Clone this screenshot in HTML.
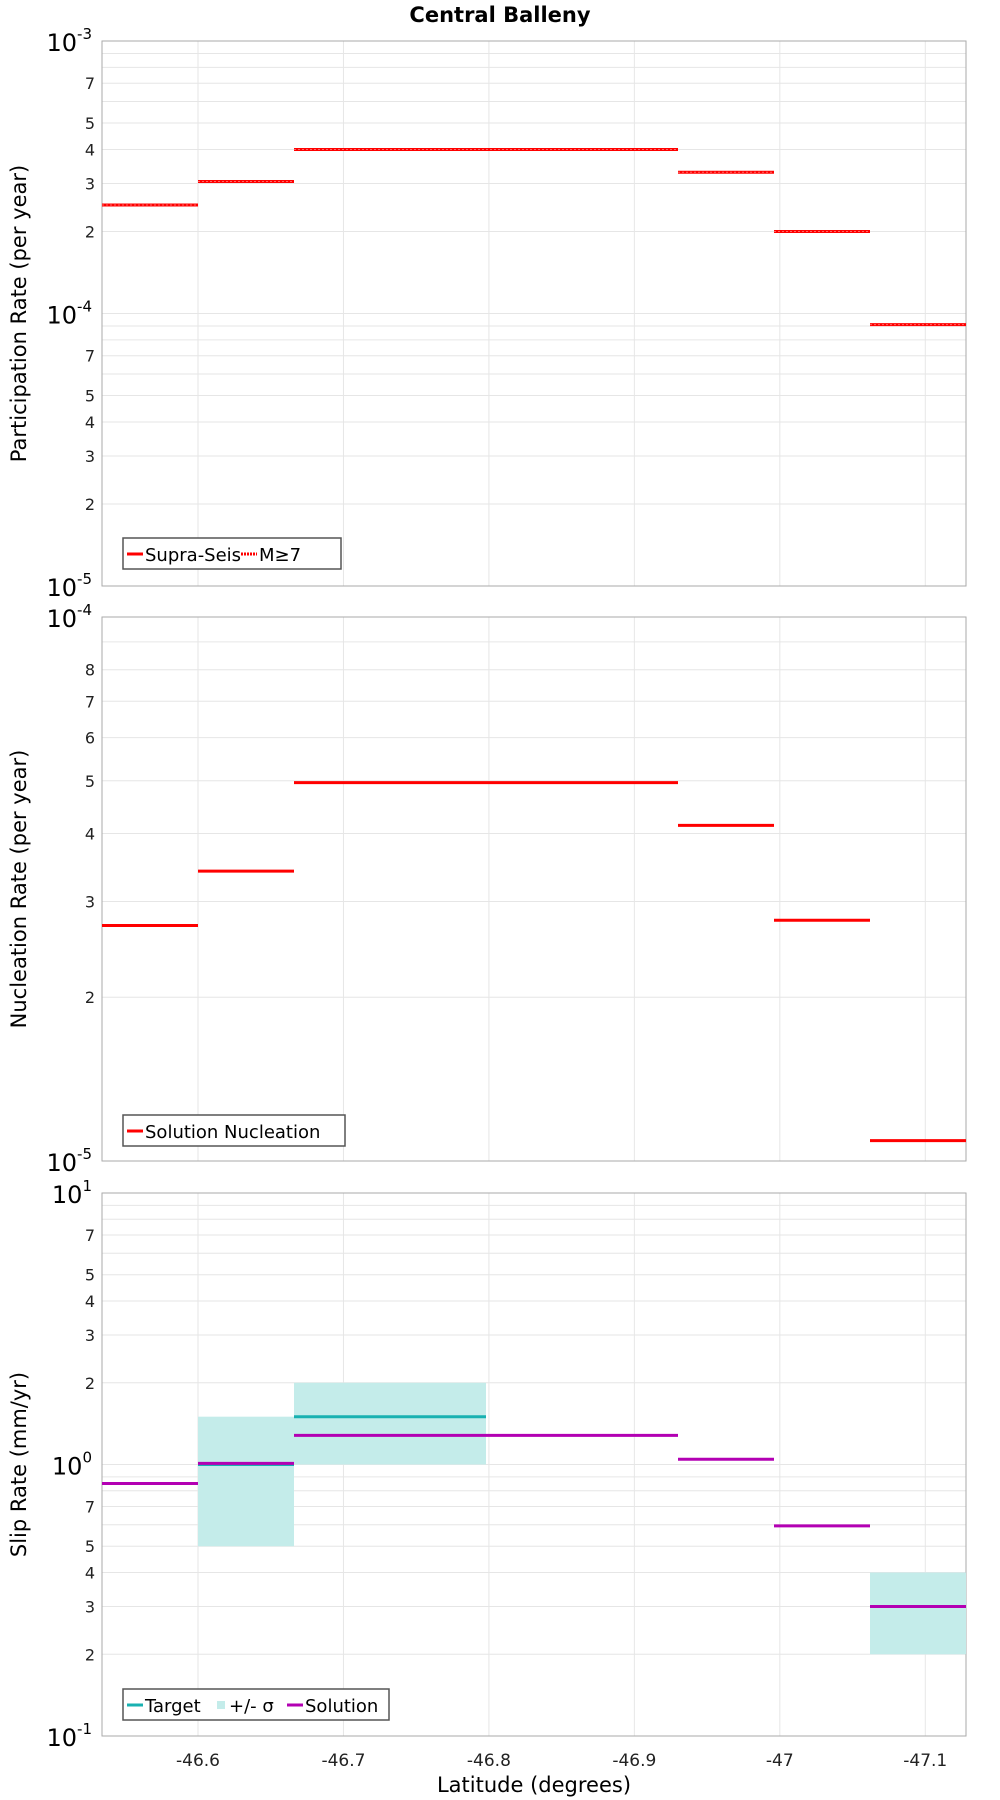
<!DOCTYPE html>
<html><head><meta charset="utf-8"><style>
html,body{margin:0;padding:0;background:#fff;}
svg{display:block;font-family:"DejaVu Sans","Liberation Sans",sans-serif;}
</style></head><body>
<svg id="chart" width="1000" height="1800" viewBox="0 0 1000 1800" xmlns="http://www.w3.org/2000/svg">
<text x="500" y="22" text-anchor="middle" font-size="21" font-weight="bold">Central Balleny</text>
<text x="534" y="1792" text-anchor="middle" font-size="21">Latitude (degrees)</text>
</svg>
<script>
// ---- data ----
const segStartLat = [-46.534,-46.600,-46.666,-46.732,-46.798,-46.864,-46.930,-46.996,-47.062];
const segEndLat   = [-46.600,-46.666,-46.732,-46.798,-46.864,-46.930,-46.996,-47.062,-47.128];
const xTicks = [-46.6,-46.7,-46.8,-46.9,-47,-47.1];
const xTickLabels = ["-46.6","-46.7","-46.8","-46.9","-47","-47.1"];
const partSupra = [2.5e-4,3.05e-4,4.0e-4,4.0e-4,4.0e-4,4.0e-4,3.3e-4,2.0e-4,9.1e-5];
const partM7    = [2.5e-4,3.05e-4,4.0e-4,4.0e-4,4.0e-4,4.0e-4,3.3e-4,2.0e-4,9.1e-5];
const nucleation = [2.71e-5,3.41e-5,4.96e-5,4.96e-5,4.96e-5,4.96e-5,4.14e-5,2.77e-5,1.09e-5];
const slipSolution = [0.851,1.01,1.28,1.28,1.28,1.28,1.045,0.594,0.30];
const slipTarget = [null,1.0,1.5,1.5,null,null,null,null,0.3];
const slipLow    = [null,0.5,1.0,1.0,null,null,null,null,0.2];
const slipHigh   = [null,1.5,2.0,2.0,null,null,null,null,0.4];

const NS="http://www.w3.org/2000/svg";
const svg=document.getElementById('chart');
const L=102,R=966,LAT0=-46.534,LAT1=-47.128;
function xs(lat){return L+(lat-LAT0)/(LAT1-LAT0)*(R-L);}
function mk(tag,attrs,parent){const e=document.createElementNS(NS,tag);for(const k in attrs)e.setAttribute(k,attrs[k]);(parent||svg).appendChild(e);return e;}

function panel(top,bot,minExp,maxExp,labelDigits,title,name){
  const g=mk('g',{});
  
  
  const ys=v=>bot-(Math.log10(v)-minExp)/(maxExp-minExp)*(bot-top);
  // grid
  for(const t of xTicks){const l=mk('line',{x1:xs(t),x2:xs(t),y1:top,y2:bot,stroke:'#e6e6e6','stroke-width':1},g);
    
    }
  for(let e=minExp;e<=maxExp;e++){
    for(let m=1;m<=9;m++){
      if(e===maxExp&&m>1)break;
      const v=m*Math.pow(10,e),y=ys(v);
      const l=mk('line',{x1:L,x2:R,y1:y,y2:y,stroke:'#e6e6e6','stroke-width':1},g);
      
      
      if(m===1){
        const t=mk('text',{x:92,y:y+10,'text-anchor':'end','font-size':24},g);
        
        
        t.textContent='10';
        const s=mk('tspan',{dy:-12,'font-size':15},t);s.textContent=String(e);
      } else if(labelDigits.includes(m)){
        const t=mk('text',{x:95,y:y+6,'text-anchor':'end','font-size':16,fill:'#222'},g);
        
        
        t.textContent=String(m);
      }
    }
  }
  const f=mk('rect',{x:L,y:top,width:R-L,height:bot-top,fill:'none',stroke:'#aaa','stroke-width':1},g);
  
  
  const yt=mk('text',{x:26,y:(top+bot)/2,'text-anchor':'middle','font-size':21,transform:`rotate(-90 26 ${(top+bot)/2})`},g);
  
  
  yt.textContent=title;
  return {g,ys};
}
function seg(g,ys,vals,color,w,name,dash){
  vals.forEach((v,i)=>{ if(v==null)return;
    const a={x1:xs(segStartLat[i]),x2:xs(segEndLat[i]),y1:ys(v),y2:ys(v),stroke:color,'stroke-width':w};
    if(dash)a['stroke-dasharray']=dash;
    const l=mk('line',a,g);
    
    
  });
}
function legend(g,x,y,w,items){
  const r=mk('rect',{x:x,y:y,width:w,height:31,fill:'#fff',stroke:'#555','stroke-width':1.5},g);
  
  
  let cx=x+4;
  for(const it of items){
    if(it.box){const b=mk('rect',{x:cx+2,y:y+12,width:8,height:8,fill:it.color},g);
      cx+=14;}
    else{const l=mk('line',{x1:cx,x2:cx+16,y1:y+16,y2:y+16,stroke:it.color,'stroke-width':3,'stroke-dasharray':it.dash||'none'},g);
      cx+=18;}
    const t=mk('text',{x:cx,y:y+23,'font-size':18},g);
    
    
    t.textContent=it.label;
    cx+=it.w;
  }
}
// panel 1
let p=panel(41,586,-5,-3,[2,3,4,5,7],'Participation Rate (per year)','participation-panel');
seg(p.g,p.ys,partSupra,'#ff0000',3,'supra-seis-segment');
seg(p.g,p.ys,partM7,'#ff6666',1,'m7-segment','2 2');
legend(p.g,123,538,218,[{color:'#f00',label:'Supra-Seis',w:96},{color:'#f00',label:'M≥7',w:40,dash:'2 1'}]);
// panel 2
p=panel(617,1161,-5,-4,[2,3,4,5,6,7,8],'Nucleation Rate (per year)','nucleation-panel');
seg(p.g,p.ys,nucleation,'#ff0000',3,'nucleation-segment');
legend(p.g,123,1115,222,[{color:'#f00',label:'Solution Nucleation',w:200}]);
// panel 3
p=panel(1193,1736,-1,1,[2,3,4,5,7],'Slip Rate (mm/yr)','slip-panel');
slipLow.forEach((lo,i)=>{ if(lo==null)return;
  const x1=xs(segStartLat[i]),x2=xs(segEndLat[i]),y1=p.ys(slipHigh[i]),y2=p.ys(lo);
  const r=mk('rect',{x:x1,y:y1,width:x2-x1,height:y2-y1,fill:'#c4ecea'},p.g);
  
  
});
seg(p.g,p.ys,slipTarget,'#19b1b1',3,'target-segment');
seg(p.g,p.ys,slipSolution,'#b300b3',3,'solution-segment');
legend(p.g,123,1689,266,[{color:'#19b1b1',label:'Target',w:70},{color:'#c4ecea',label:'+/- σ',w:58,box:true},{color:'#b300b3',label:'Solution',w:90}]);
// x tick labels
xTicks.forEach((t,i)=>{
  const tx=mk('text',{x:xs(t),y:1766,'text-anchor':'middle','font-size':17,fill:'#222'});
  
  
  tx.textContent=xTickLabels[i];
});
</script>
</body></html>
